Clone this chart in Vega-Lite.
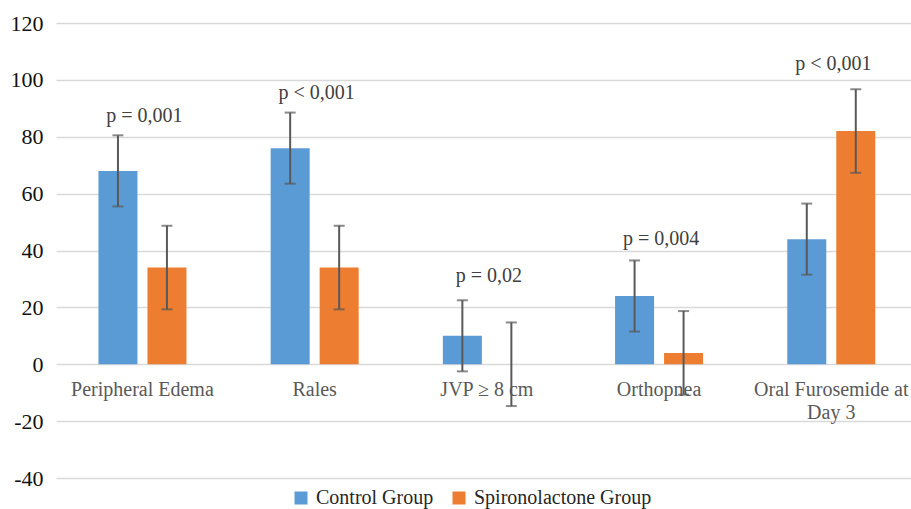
{
  "$schema": "https://vega.github.io/schema/vega-lite/v6.json",
  "width": 855,
  "height": 455,
  "autosize": "none",
  "padding": {"left": 56, "top": 23, "right": 0, "bottom": 31},
  "background": "white",
  "config": {
    "font": "Liberation Serif, Times New Roman, serif",
    "view": {"stroke": null},
    "axis": {"labelFont": "Liberation Serif, Times New Roman, serif"},
    "legend": {"labelFont": "Liberation Serif, Times New Roman, serif"},
    "text": {"font": "Liberation Serif, Times New Roman, serif"}
  },
  "datasets": {
    "bars": [
      {"cat": "Peripheral Edema", "group": "Control Group", "value": 68, "lo": 55.5, "hi": 80.5},
      {"cat": "Peripheral Edema", "group": "Spironolactone Group", "value": 34, "lo": 19.3, "hi": 48.7},
      {"cat": "Rales", "group": "Control Group", "value": 76, "lo": 63.5, "hi": 88.5},
      {"cat": "Rales", "group": "Spironolactone Group", "value": 34, "lo": 19.3, "hi": 48.7},
      {"cat": "JVP ≥ 8 cm", "group": "Control Group", "value": 10, "lo": -2.5, "hi": 22.5},
      {"cat": "JVP ≥ 8 cm", "group": "Spironolactone Group", "value": 0, "lo": -14.7, "hi": 14.7},
      {"cat": "Orthopnea", "group": "Control Group", "value": 24, "lo": 11.5, "hi": 36.5},
      {"cat": "Orthopnea", "group": "Spironolactone Group", "value": 4, "lo": -10.7, "hi": 18.7},
      {"cat": "Oral Furosemide at Day 3", "group": "Control Group", "value": 44, "lo": 31.5, "hi": 56.5},
      {"cat": "Oral Furosemide at Day 3", "group": "Spironolactone Group", "value": 82, "lo": 67.3, "hi": 96.7}
    ],
    "plabels": [
      {"cat": "Peripheral Edema", "label": "p = 0,001", "ypos": 85.1},
      {"cat": "Rales", "label": "p < 0,001", "ypos": 93.1},
      {"cat": "JVP ≥ 8 cm", "label": "p = 0,02", "ypos": 28.9},
      {"cat": "Orthopnea", "label": "p = 0,004", "ypos": 41.8},
      {"cat": "Oral Furosemide at Day 3", "label": "p < 0,001", "ypos": 103.4}
    ]
  },
  "layer": [
    {
      "data": {"name": "bars"},
      "mark": {"type": "bar"},
      "encoding": {
        "x": {
          "field": "cat", "type": "nominal",
          "sort": ["Peripheral Edema", "Rales", "JVP ≥ 8 cm", "Orthopnea", "Oral Furosemide at Day 3"],
          "scale": {"paddingInner": 0.489, "paddingOuter": 0.227, "align": 0.543},
          "axis": {
            "title": null, "orient": "bottom", "offset": -114, "domain": false, "ticks": false, "tickSize": 0,
            "labelPadding": 15, "labelFontSize": 20, "labelColor": "#595959", "labelAngle": 0,
            "labelLineHeight": 23, "labelLimit": 400, "grid": false,
            "labelExpr": "datum.value == 'Oral Furosemide at Day 3' ? ['Oral Furosemide at', 'Day 3'] : datum.value"
          }
        },
        "xOffset": {
          "field": "group", "type": "nominal",
          "scale": {"domain": ["Control Group", "Spironolactone Group"], "paddingInner": 0.204, "paddingOuter": 0}
        },
        "y": {
          "field": "value", "type": "quantitative",
          "scale": {"domain": [-40, 120], "nice": false, "zero": false},
          "axis": {
            "title": null, "values": [-40, -20, 0, 20, 40, 60, 80, 100, 120],
            "grid": true, "gridColor": "#D9D9D9", "gridWidth": 1.3,
            "domain": false, "ticks": false, "tickSize": 0,
            "labelFontSize": 22, "labelColor": "#111111", "labelPadding": 13,
            "labelExpr": "replace(datum.label, '−', '-')"
          }
        },
        "color": {
          "field": "group", "type": "nominal",
          "scale": {"domain": ["Control Group", "Spironolactone Group"], "range": ["#5B9BD5", "#ED7D31"]},
          "legend": {
            "orient": "none", "legendX": 235, "legendY": 465, "direction": "horizontal", "title": null,
            "symbolType": "square", "symbolSize": 169, "symbolStrokeWidth": 0, "labelLimit": 400,
            "labelFontSize": 20, "labelColor": "#262626", "columnPadding": 15, "labelOffset": 5
          }
        }
      }
    },
    {
      "data": {"name": "bars"},
      "mark": {"type": "rule", "color": "#595959", "strokeWidth": 2},
      "encoding": {
        "x": {"field": "cat", "type": "nominal", "sort": ["Peripheral Edema", "Rales", "JVP ≥ 8 cm", "Orthopnea", "Oral Furosemide at Day 3"]},
        "xOffset": {"field": "group", "type": "nominal"},
        "y": {"field": "lo", "type": "quantitative"},
        "y2": {"field": "hi"}
      }
    },
    {
      "data": {"name": "bars"},
      "mark": {"type": "tick", "orient": "horizontal", "color": "#595959", "size": 11, "thickness": 2},
      "encoding": {
        "x": {"field": "cat", "type": "nominal", "sort": ["Peripheral Edema", "Rales", "JVP ≥ 8 cm", "Orthopnea", "Oral Furosemide at Day 3"]},
        "xOffset": {"field": "group", "type": "nominal"},
        "y": {"field": "lo", "type": "quantitative"}
      }
    },
    {
      "data": {"name": "bars"},
      "mark": {"type": "tick", "orient": "horizontal", "color": "#595959", "size": 11, "thickness": 2},
      "encoding": {
        "x": {"field": "cat", "type": "nominal", "sort": ["Peripheral Edema", "Rales", "JVP ≥ 8 cm", "Orthopnea", "Oral Furosemide at Day 3"]},
        "xOffset": {"field": "group", "type": "nominal"},
        "y": {"field": "hi", "type": "quantitative"}
      }
    },
    {
      "data": {"name": "plabels"},
      "mark": {"type": "text", "fontSize": 20, "color": "#404040", "baseline": "alphabetic", "align": "center", "dx": 2},
      "encoding": {
        "x": {"field": "cat", "type": "nominal", "sort": ["Peripheral Edema", "Rales", "JVP ≥ 8 cm", "Orthopnea", "Oral Furosemide at Day 3"]},
        "y": {"field": "ypos", "type": "quantitative"},
        "text": {"field": "label"}
      }
    }
  ]
}
